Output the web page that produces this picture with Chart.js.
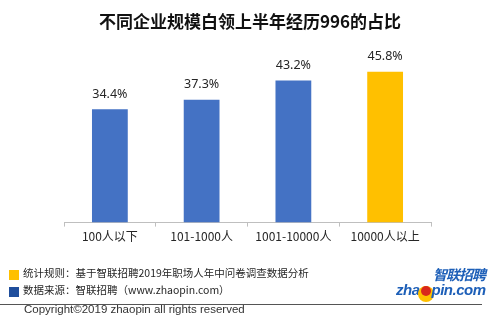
<!DOCTYPE html>
<html>
<head>
<meta charset="utf-8">
<script src="https://cdn.jsdelivr.net/npm/chart.js@4"></script>
<style>
  body { margin: 0; background: #fff; }
  #wrap { position: relative; width: 500px; height: 325px; overflow: hidden;
          font-family: "Noto Sans CJK SC", "Noto Sans", sans-serif; color: #262626; }
  #chart-box { position: absolute; left: 0; top: 0; width: 500px; height: 325px; }
  .title { position: absolute; left: 0; top: 8px; width: 500px; text-align: center;
           font-size: 17px; font-weight: bold; color: #111; }
  .note { position: absolute; left: 23px; font-size: 10.5px; line-height: 12px; color: #262626; white-space: nowrap; }
  .swatch { position: absolute; left: 9px; width: 10px; height: 10px; }
  .rule { position: absolute; left: 0; top: 304px; width: 482px; height: 1px; background: #555; }
  .copy { position: absolute; left: 24px; top: 303px; font-size: 11.5px; color: #333;
          font-family: "Liberation Sans", "Noto Sans", sans-serif; }
  .logo-cn { position: absolute; left: 433px; top: 264px; font-size: 14px; font-weight: bold;
             font-style: italic; color: #1d5fb8; letter-spacing: -1px; }
  .logo-en { position: absolute; left: 396px; top: 281px; font-size: 15px; font-weight: bold;
             font-style: italic; color: #1d5fb8; font-family: "Liberation Sans", sans-serif; letter-spacing: -0.5px; }
  .logo-en .dot { display: inline-block; width: 10px; height: 10px; border-radius: 50%;
                  background: #d9261c; box-shadow: 0 3px 0 3px #ffc000; vertical-align: -1px; margin: 0 1px; }
</style>
</head>
<body>
<div id="wrap">
  <div id="chart-box"><canvas id="chart"></canvas></div>
  <div class="title">不同企业规模白领上半年经历996的占比</div>
  <div class="swatch" style="top:270px; background:#ffc000;"></div>
  <div class="note" style="top:267px;">统计规则：基于智联招聘2019年职场人年中问卷调查数据分析</div>
  <div class="swatch" style="top:287px; background:#1f4e9c;"></div>
  <div class="note" style="top:284px;">数据来源：智联招聘（www.zhaopin.com）</div>
  <div class="rule"></div>
  <div class="copy">Copyright©2019 zhaopin all rights reserved</div>
  <div class="logo-cn">智联招聘</div>
  <div class="logo-en">zha<span class="dot"></span>pin.com</div>
</div>
<script>
const categories = ["100人以下", "101-1000人", "1001-10000人", "10000人以上"];
const shares = [34.4, 37.3, 43.2, 45.8];
const barColors = ["#4472c4", "#4472c4", "#4472c4", "#ffc000"];

// value labels above each bar
const valueLabels = {
  id: "valueLabels",
  afterDatasetsDraw(chart) {
    const ctx = chart.ctx;
    const meta = chart.getDatasetMeta(0);
    ctx.save();
    ctx.font = '12.5px "Noto Sans", sans-serif';
    ctx.fillStyle = "#262626";
    ctx.textAlign = "center";
    ctx.textBaseline = "middle";
    meta.data.forEach((bar, i) => {
      ctx.fillText(shares[i].toFixed(1) + "%", bar.x, bar.y - 15);
    });
    ctx.restore();
  },
};

new Chart(document.getElementById("chart"), {
  type: "bar",
  data: {
    labels: categories,
    datasets: [
      {
        data: shares,
        backgroundColor: barColors,
        barPercentage: 0.39,
        categoryPercentage: 1,
      },
    ],
  },
  options: {
    responsive: true,
    maintainAspectRatio: false,
    animation: false,
    layout: { padding: { left: 64, right: 69, top: 58, bottom: 78 } },
    plugins: { legend: { display: false }, tooltip: { enabled: false } },
    scales: {
      x: {
        grid: {
          offset: true,
          drawOnChartArea: false,
          tickLength: 4,
          color: "#bfbfbf",
        },
        border: { color: "#bfbfbf" },
        ticks: {
          padding: 3,
          color: "#262626",
          font: { size: 12, family: '"Noto Sans CJK SC", sans-serif' },
        },
      },
      y: { display: false, min: 0, max: 50 },
    },
  },
  plugins: [valueLabels],
});
</script>
</body>
</html>
